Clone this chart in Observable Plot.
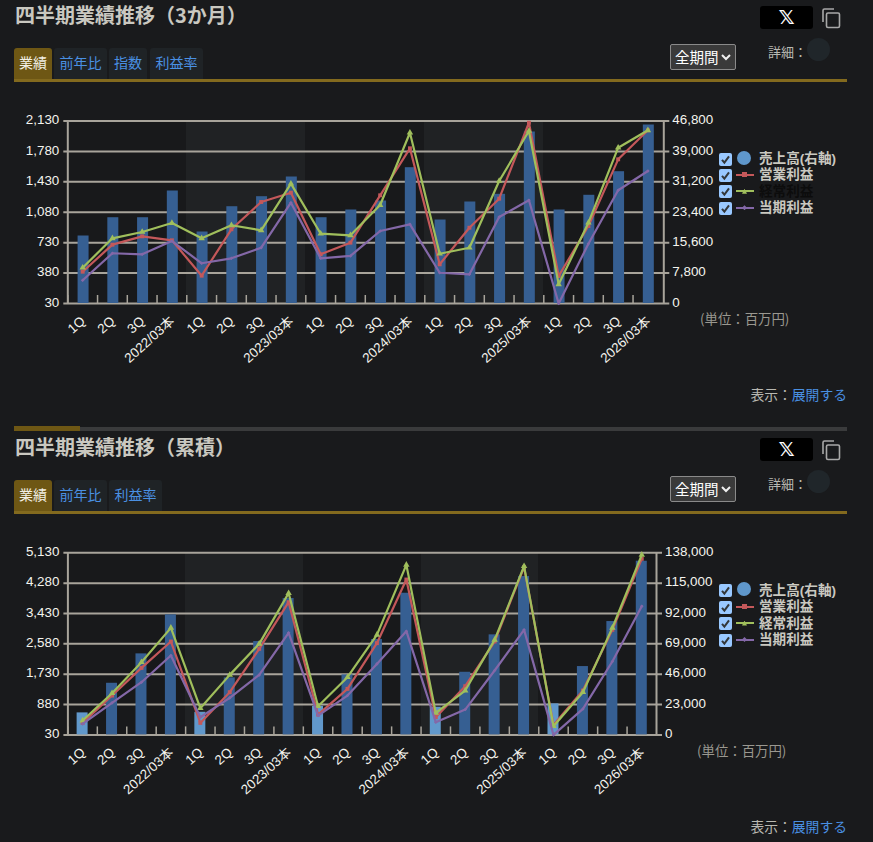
<!DOCTYPE html>
<html lang="ja"><head><meta charset="utf-8">
<script src="https://cdn.jsdelivr.net/npm/d3@7"></script>
<script src="https://cdn.jsdelivr.net/npm/@observablehq/plot@0.6"></script>
<style>
html,body{margin:0;padding:0;background:#191a1c;width:873px;height:842px;overflow:hidden;font-family:"Liberation Sans","Noto Sans CJK JP",sans-serif;}
.a{position:absolute;white-space:nowrap;}
.title{left:15px;font:bold 20px/26px "Noto Sans CJK JP";color:#c9c8c0;}
.tab{top:0;height:31px;text-align:center;font:14px/29px "Noto Sans CJK JP";background:#1f2326;color:#4a90e2;border-radius:3px 3px 0 0;}
.tab.on{background:#6e5714;color:#f2f0e6;}
.gold{left:14px;width:833px;height:3px;background:#836a1e;}
.sel{left:670px;height:24px;width:60px;background:#3a3a3a;border:1px solid #8a8a8a;border-radius:2px;color:#fff;font:14.5px/24px "Noto Sans CJK JP";padding-left:4px;}
.det{left:768px;color:#b9b9b2;font:13px/16px "Noto Sans CJK JP";}
.circ{left:807px;width:23px;height:23px;border-radius:50%;background:#20262a;}
.xb{left:760px;width:53px;height:23px;background:#000;border-radius:3px;color:#fff;text-align:center;font:bold 20px/23px "DejaVu Sans";}
.cp{left:821px;}
.unit{color:#9a9890;font:13.4px/16px "Noto Sans CJK JP";}
.more{color:#b9b9b2;font:13.8px/16px "Noto Sans CJK JP";right:26px;}
.more b{font-weight:normal;color:#4a90e2;}
.row{left:719px;height:16px;}
.cb{position:absolute;left:0;top:1px;width:13px;height:13px;background:#99c8ff;border-radius:2px;}
.lg{position:absolute;left:40px;top:-0.5px;font:bold 13.6px/16px "Liberation Sans","Noto Sans CJK JP";color:#c9c8c0;}
.ln{position:absolute;left:17px;top:6px;width:18px;height:2px;}
.mk{position:absolute;left:23px;top:4.5px;width:5px;height:5px;}
.dot{position:absolute;left:18px;top:-1px;width:14px;height:14px;border-radius:50%;background:#5f97cb;}
svg{position:absolute;left:0;overflow:visible;}
</style></head><body>
<div id="root"></div>
<script>
const categories = ["1Q","2Q","3Q","2022/03本","1Q","2Q","3Q","2023/03本","1Q","2Q","3Q","2024/03本","1Q","2Q","3Q","2025/03本","1Q","2Q","3Q","2026/03本"];
const years = [0,0,0,0,1,1,1,1,2,2,2,2,3,3,3,3,4,4,4,4];
const seriesNames = ["売上高(右軸)","営業利益","経常利益","当期利益"];

const quarterSales = [17310,22000,22000,28850,18335,24820,27390,32440,22000,23980,26285,34825,21410,26030,28000,43980,23980,27750,33800,45775];
const quarterOperating = [396,707,803,757,350,884,1198,1305,596,730,1275,1816,481,902,1236,2110,346,922,1689,2023];
const quarterOrdinary = [442,780,853,956,780,930,872,1409,833,815,1163,1995,603,672,1440,2015,251,960,1823,2023];
const quarterNet = [297,608,596,749,493,550,672,1190,550,577,864,941,384,366,1025,1218,30,718,1333,1555];
const quarterLeftTicks = [30,380,730,1080,1430,1780,2130];
const quarterRightTicks = [0,7800,15600,23400,31200,39000,46800];

const cumSales = [16680,39120,61410,90980,17135,43220,70740,103340,21685,45490,72260,107360,20930,47460,75820,120020,23500,51790,85900,131620];
const cumOperating = [366,1132,1907,2645,366,1226,2440,3747,600,1319,2599,4382,525,1394,2645,4728,310,1272,2972,4962];
const cumOrdinary = [432,1198,2066,3028,777,1711,2580,4000,833,1646,2832,4793,646,1272,2692,4756,273,1226,3028,5074];
const cumNet = [338,927,1506,2253,525,1067,1711,2888,572,1132,2019,2935,385,740,1833,2972,30,758,2085,3635];
const cumLeftTicks = [30,880,1730,2580,3430,4280,5130];
const cumRightTicks = [0,23000,46000,69000,92000,115000,138000];

const colors = {bar:"#365f92", barLight:"#6198cb", op:"#c4585a", ord:"#a0bf5c", net:"#8468a8", grid:"#a8a49b", axis:"#a8a49b", band:"#202224", plain:"#18191b", label:"#f4f4ee"};
const root = document.getElementById("root");
const fmt = d3.format(",");

function drawChart({top, left, right, mTop, mBottom, sales, op, ord, net, lT, rT, lightFirst, barDx, axisR}) {
  const ids = categories.map((c,i)=>i);
  const keys = categories.map((c,i)=>i+":"+c);
  const step = (right-left)/20;
  const inset = (step-11)/2;
  const [y0,y1] = [lT[0], lT[lT.length-1]];
  const [r0,r1] = [rT[0], rT[rT.length-1]];
  const toLeft = d3.scaleLinear([r0,r1],[y0,y1]);
  const tickLen = (y1-y0)*8/182;
  const line = (vals,color) => Plot.line(ids,{x:i=>keys[i],y:i=>vals[i],stroke:color,strokeWidth:2.2,curve:"linear"});
  const dots = (vals,color,symbol,r) => Plot.dot(ids,{x:i=>keys[i],y:i=>vals[i],fill:color,symbol,r,stroke:"none"});
  const p = Plot.plot({
    width:873, height:300, marginTop:mTop, marginBottom:mBottom, marginLeft:left, marginRight:873-right,
    style:{background:"transparent",overflow:"visible"},
    x:{type:"band",domain:keys,padding:0,round:false,axis:null},
    y:{domain:[y0,y1],axis:null},
    marks:[
      Plot.barY(ids,{x:i=>keys[i],y1:y0,y2:y1,fill:i=>years[i]%2?colors.band:colors.plain,inset:0,shapeRendering:"crispEdges"}),
      Plot.ruleY(lT,{stroke:colors.grid,strokeWidth:2,insetLeft:-4,insetRight:-6-axisR}),
      Plot.ruleX(ids,{x:i=>keys[i],y1:y0,y2:y0+tickLen,dx:-step/2,stroke:colors.grid,strokeWidth:1.5}),
      Plot.ruleX([keys[0]],{x:d=>d,y1:y0,y2:y1,dx:-step/2,stroke:colors.axis,strokeWidth:2}),
      Plot.ruleX([keys[19]],{x:d=>d,y1:y0,y2:y1,dx:step/2+axisR,stroke:colors.axis,strokeWidth:2}),
      Plot.barY(ids,{x:i=>keys[i],y1:y0,y2:i=>toLeft(sales[i]),fill:i=>(lightFirst&&i%4==0)?colors.barLight:colors.bar,insetLeft:inset,insetRight:inset,dx:barDx}),
      line(op,colors.op), dots(op,colors.op,"square",2.2),
      line(ord,colors.ord), dots(ord,colors.ord,"triangle",2.4),
      line(net,colors.net), dots(net,colors.net,"diamond2",1.6),
      Plot.text(lT,{x:()=>keys[0],y:d=>d,text:d=>fmt(d),dx:-step/2-8.5,dy:-1,textAnchor:"end",fill:colors.label,fontSize:13.4}),
      Plot.text(rT,{x:()=>keys[19],y:(d)=>toLeft(d),text:d=>fmt(d),dx:step/2+8.5+axisR,dy:-1,textAnchor:"start",fill:colors.label,fontSize:13.4}),
      Plot.text(ids,{x:i=>keys[i],y:y0,text:i=>categories[i],rotate:-42,textAnchor:"end",dx:0.5,dy:15.5,fill:colors.label,fontSize:13.4})
    ]
  });
  p.style.position="absolute"; p.style.left="0"; p.style.top=top+"px";
  p.style.fontFamily='"Liberation Sans","Noto Sans CJK JP",sans-serif';
  root.appendChild(p);
}

function el(cls,style,html,parent){const d=document.createElement("div");d.className="a "+cls;Object.assign(d.style,style);if(html!=null)d.innerHTML=html;(parent||root).appendChild(d);return d;}

const checkIcon='<svg style="top:0" width="13" height="13" viewBox="0 0 13 13" fill="none" stroke="#33373a" stroke-width="2"><path d="M3 6.8L5.4 9.6L10 3.4"/></svg>';
const chevron='<svg style="position:absolute;left:50px;top:9px" width="10" height="7" viewBox="0 0 10 7" fill="none" stroke="#f0f0f0" stroke-width="2"><path d="M1 1L5 5L9 1"/></svg>';

function chrome({y,title,tabs,legendTop,unitTop,unitLeft,moreTop,dark}){
  el("title",{top:(y+2)+"px"},title);
  el("xb",{top:(y+6)+"px"},"𝕏");
  el("cp",{top:(y+8)+"px"},'<svg style="position:static;display:block" width="20" height="20" viewBox="0 0 20 20" fill="none" stroke="#a8a8a8" stroke-width="1.6"><rect x="5.5" y="5" width="13" height="14.5" rx="1.5"/><path d="M2 14V2.5A1.5 1.5 0 0 1 3.5 1H13"/></svg>');
  el("sel",{top:(y+44)+"px"},'全期間'+chevron);
  el("det",{top:(y+44)+"px"},"詳細：");
  el("circ",{top:(y+38)+"px"});
  const t=el("",{top:(y+48)+"px",left:"0",height:"31px"});
  tabs.forEach(([n,l,w],i)=>el("tab"+(i==0?" on":""),{left:l+"px",width:w+"px"},n,t));
  el("gold",{top:(y+79)+"px"});
  const lineColors=[null,colors.op,colors.ord,colors.net];
  seriesNames.forEach((n,i)=>{
    const r=el("row",{top:(legendTop+i*16.4)+"px"});
    let h='<div class="cb">'+checkIcon+'</div>';
    if(i==0) h+='<div class="dot"></div>';
    else{
      const c=lineColors[i];
      const clip=i==2?"polygon(50% 0,100% 100%,0 100%)":i==3?"polygon(50% 0,100% 50%,50% 100%,0 50%)":"none";
      h+=`<div class="ln" style="background:${c}"></div><div class="mk" style="background:${c};clip-path:${clip}"></div>`;
    }
    h+=`<div class="lg" style="${dark&&i==2?'color:#0c0c0c':''}">${n}</div>`;
    r.innerHTML=h;
  });
  el("unit",{top:unitTop+"px",left:unitLeft+"px"},"(単位：百万円)");
  el("more",{top:moreTop+"px"},"表示：<b>展開する</b>");
}

chrome({y:0,title:"四半期業績推移（3か月）",tabs:[["業績",14,38],["前年比",54,53],["指数",109,38],["利益率",150,53]],legendTop:151.5,unitTop:310,unitLeft:700,moreTop:386,dark:true});
el("",{left:"14px",top:"427px",width:"833px",height:"4px",background:"#3a3b3c"});
el("",{left:"14px",top:"426px",width:"66px",height:"5px",background:"#6e5714"});
chrome({y:432,title:"四半期業績推移（累積）",tabs:[["業績",14,38],["前年比",54,53],["利益率",109,53]],legendTop:583.3,unitTop:742,unitLeft:697,moreTop:818,dark:false});

drawChart({top:100,left:67.3,right:662.3,mTop:20.5,mBottom:97,sales:quarterSales,op:quarterOperating,ord:quarterOrdinary,net:quarterNet,lT:quarterLeftTicks,rT:quarterRightTicks,lightFirst:false,barDx:0.9,axisR:1});
drawChart({top:532,left:67.4,right:656,mTop:20.3,mBottom:97.6,sales:cumSales,op:cumOperating,ord:cumOrdinary,net:cumNet,lT:cumLeftTicks,rT:cumRightTicks,lightFirst:true,barDx:0,axisR:0});
</script>
</body></html>
